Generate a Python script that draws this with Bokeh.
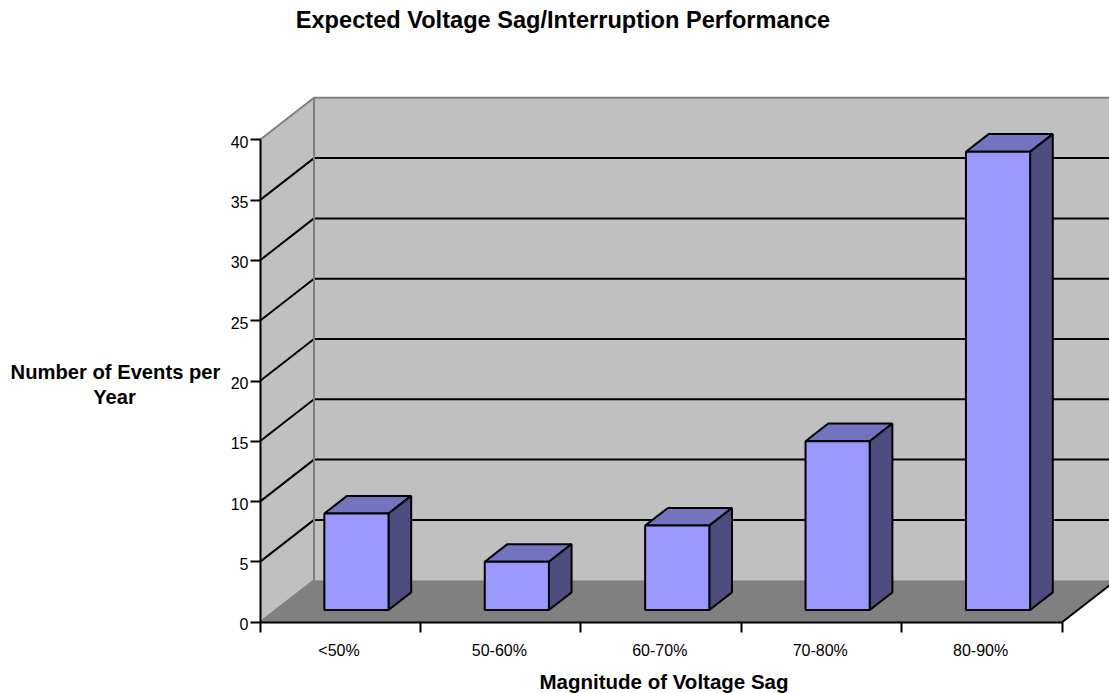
from bokeh.core.properties import value
from bokeh.embed import file_html
from bokeh.models import FixedTicker, LinearAxis, Range1d
from bokeh.plotting import figure
from bokeh.resources import INLINE

title_text = "Expected Voltage Sag/Interruption Performance"
x_title = "Magnitude of Voltage Sag"
y_title_lines = ["Number of Events per", "Year"]
categories = ["<50%", "50-60%", "60-70%", "70-80%", "80-90%"]
events = [8, 4, 7, 14, 38]
y_ticks = [0, 5, 10, 15, 20, 25, 30, 35, 40]

FONT = "Liberation Sans"
PX_PER_CAT, PX_PER_VAL = 160.4, 12.06
X0_PX, Y0_PX = 259.5, 621.7
W, H = 1109, 693
ORIGIN = 0
DEPTH_X = 54 / PX_PER_CAT       # category units across the full depth
DEPTH_Y = 42 / PX_PER_VAL       # value units across the full depth
BAR_START, BAR_WIDTH = 0.3035, 0.4
BAR_D0, BAR_D1 = 0.29, 0.71
n = len(categories)
vmax = max(y_ticks)


def P(cat, val, depth=0.0):
    return cat + depth * DEPTH_X, val + depth * DEPTH_Y


def poly(*pts):
    xy = [P(*q) for q in pts]
    return [a for a, _ in xy], [b for _, b in xy]


x_range = Range1d((ORIGIN - X0_PX) / PX_PER_CAT, (ORIGIN + W - X0_PX) / PX_PER_CAT)
y_range = Range1d((Y0_PX - (ORIGIN + H)) / PX_PER_VAL, (Y0_PX - ORIGIN) / PX_PER_VAL)

p = figure(width=W, height=H, x_range=x_range, y_range=y_range, output_backend="svg",
           toolbar_location=None, min_border=0, x_axis_location=None, y_axis_location=None)
p.grid.visible = False
p.outline_line_color = None
p.background_fill_color = "white"

WALL, FLOOR, GREY = "#C0C0C0", "#808080", "#808080"
FRONT, TOP, SIDE = "#9999FF", "#7373BF", "#4D4D80"

# walls and floor
far = n + 0.5
xs, ys = poly((0, 0, 0), (0, 0, 1), (0, vmax, 1), (0, vmax, 0))
p.patch(xs, ys, fill_color=WALL, line_color=None)
xs, ys = poly((0, 0, 1), (far, 0, 1), (far, vmax, 1), (0, vmax, 1))
p.patch(xs, ys, fill_color=WALL, line_color=None)
xs, ys = poly((0, 0, 0), (n, 0, 0), (n, 0, 1), (0, 0, 1))
p.patch(xs, ys, fill_color=FLOOR, line_color=None)
xs, ys = poly((n, 0, 0), (far, 0, 0), (far, 0, 1), (n, 0, 1))
p.patch(xs, ys, fill_color="white", line_color=None)

# gridlines
for t in y_ticks[1:-1]:
    xs, ys = poly((0, t, 0), (0, t, 1), (far, t, 1))
    p.line(xs, ys, line_color="black", line_width=2)

# wall outline
xs, ys = poly((0, 0, 0), (0, 0, 1), (0, vmax, 1), (far, vmax, 1))
p.line(xs, ys, line_color=GREY, line_width=2)
xs, ys = poly((0, vmax, 0), (0, vmax, 1))
p.line(xs, ys, line_color=GREY, line_width=2)
xs, ys = poly((n, 0, 0), (n, 0, 1))
p.line(xs, ys, line_color="black", line_width=2)

# bars
for i, v in enumerate(events):
    a, b = i + BAR_START, i + BAR_START + BAR_WIDTH
    xs, ys = poly((a, v, BAR_D0), (b, v, BAR_D0), (b, v, BAR_D1), (a, v, BAR_D1))
    p.patch(xs, ys, fill_color=TOP, line_color="black", line_width=2)
    xs, ys = poly((b, 0, BAR_D0), (b, 0, BAR_D1), (b, v, BAR_D1), (b, v, BAR_D0))
    p.patch(xs, ys, fill_color=SIDE, line_color="black", line_width=2)
    xs, ys = poly((a, 0, BAR_D0), (b, 0, BAR_D0), (b, v, BAR_D0), (a, v, BAR_D0))
    p.patch(xs, ys, fill_color=FRONT, line_color="black", line_width=2)

# value axis (labels drawn below so they can sit just under each tick)
ya = LinearAxis(fixed_location=0, ticker=FixedTicker(ticks=y_ticks), bounds=(0, vmax))
ya.axis_line_color = "black"
ya.axis_line_width = 2
ya.major_tick_line_color = "black"
ya.major_tick_line_width = 2
ya.major_tick_in = 0
ya.major_tick_out = 10
ya.minor_tick_line_color = None
ya.major_label_text_font_size = "0px"
ya.major_label_text_color = None
p.add_layout(ya, "left")
p.text([0] * len(y_ticks), y_ticks, text=[str(t) for t in y_ticks], x_offset=-11.5, y_offset=2,
       text_font=value(FONT), text_font_size=value("16px"), text_color="black",
       text_align="right", text_baseline="middle")

# category axis: ticks on the boundaries
xa = LinearAxis(fixed_location=0, ticker=FixedTicker(ticks=list(range(n + 1))), bounds=(0, n))
xa.axis_line_color = "black"
xa.axis_line_width = 2
xa.major_tick_line_color = "black"
xa.major_tick_line_width = 2
xa.major_tick_in = 0
xa.major_tick_out = 10
xa.minor_tick_line_color = None
xa.major_label_text_font_size = "0px"
xa.major_label_text_color = None
p.add_layout(xa, "below")

# category labels at the centres
p.text([i + 0.5 for i in range(n)], [0] * n, text=categories, x_offset=-1.2, y_offset=28.5,
       text_font=value(FONT), text_font_size=value("16px"), text_color="black",
       text_align="center", text_baseline="middle")


def px_x(v):
    return (v - X0_PX) / PX_PER_CAT


def px_y(v):
    return (Y0_PX - v) / PX_PER_VAL


def label(x, y, txt, size):
    p.text([px_x(x)], [px_y(y)], text=[txt], text_font=value(FONT), text_font_size=value(size),
           text_font_style="bold", text_color="black", text_align="center", text_baseline="middle")


label(562.5, 19.5, title_text, "23.6px")
label(663.5, 680.5, x_title, "20.5px")
label(115, 371, y_title_lines[0], "20.2px")
label(114, 396.5, y_title_lines[1], "20.2px")

open("out.html", "w").write(file_html(p, INLINE))
